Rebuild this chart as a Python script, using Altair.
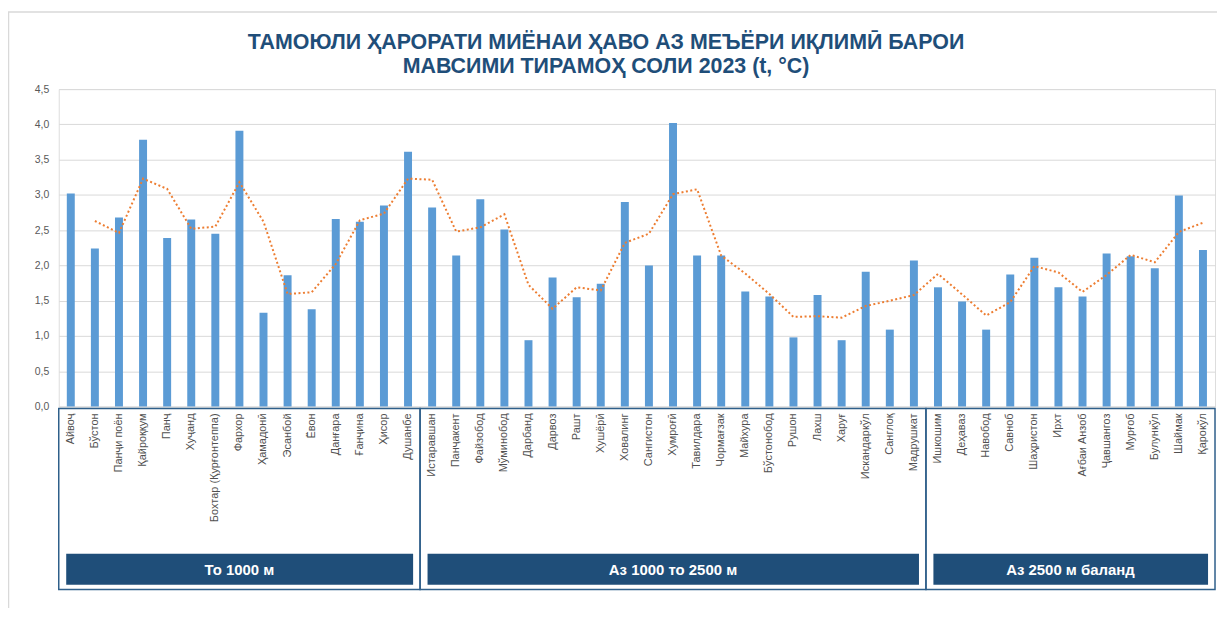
import altair as alt
import pandas as pd

stations = [
    "Айвоҷ", "Бўстон", "Панҷи поён", "Қайроққум", "Панҷ", "Хуҷанд",
    "Бохтар (Қурғонтеппа)", "Фархор", "Ҳамадонӣ", "Эсанбой", "Ёвон",
    "Данғара", "Ғанҷина", "Ҳисор", "Душанбе",
    "Истаравшан", "Панҷакент", "Файзобод", "Мўминобод", "Дарбанд", "Дарвоз",
    "Рашт", "Хушёрӣ", "Ховалинг", "Сангистон", "Хумроғӣ", "Тавилдара",
    "Чормағзак", "Майхура", "Бўстонобод", "Рушон", "Лахш", "Харуғ",
    "Искандаркўл", "Санглоқ", "Мадрушкат",
    "Ишкошим", "Деҳаваз", "Навобод", "Савноб", "Шаҳристон", "Ирхт",
    "Ағбаи Анзоб", "Ҷавшангоз", "Мурғоб", "Булункўл", "Шаймак", "Қарокўл",
]
temps = [
    3.02, 2.24, 2.68, 3.78, 2.39, 2.65, 2.45, 3.91, 1.33, 1.86, 1.38,
    2.66, 2.62, 2.85, 3.61,
    2.82, 2.14, 2.94, 2.51, 0.94, 1.83, 1.55, 1.74, 2.90, 2.00, 4.02,
    2.14, 2.14, 1.63, 1.56, 0.98, 1.58, 0.94, 1.91, 1.09, 2.07,
    1.69, 1.49, 1.09, 1.87, 2.11, 1.69, 1.56, 2.17, 2.13, 1.96, 2.99, 2.22,
]
group_names = ["То 1000 м", "Аз 1000 то 2500 м", "Аз 2500 м баланд"]
group_sizes = [15, 21, 12]
y_ticks = [0, 0.5, 1, 1.5, 2, 2.5, 3, 3.5, 4, 4.5]
title_lines = [
    "ТАМОЮЛИ ҲАРОРАТИ МИЁНАИ ҲАВО АЗ МЕЪЁРИ ИҚЛИМӢ БАРОИ",
    "МАВСИМИ ТИРАМОҲ СОЛИ 2023 (t, °C)",
]

df = pd.DataFrame({"station": stations, "value": temps, "idx": list(range(len(stations)))})

starts, ends = [], []
s = 0
for n in group_sizes:
    starts.append(s)
    ends.append(s + n)
    s += n
gdf = pd.DataFrame({"name": group_names, "start": starts, "end": ends})
gdf["mid"] = (gdf["start"] + gdf["end"]) / 2

FONT = "Liberation Sans"
DARK = "#1F4E79"

qx = alt.Scale(domain=[0, len(stations)], nice=False, zero=False, padding=0)
yscale = alt.Scale(domain=[0, 4.5], nice=False, padding=0)
yaxis = alt.Axis(title=None, values=y_ticks,
                 labelExpr="replace(format(datum.value, '.1f'), '.', ',')",
                 domain=False, ticks=False, gridColor="#D9D9D9",
                 labelColor="#595959", labelFontSize=10.5, labelFont=FONT,
                 labelPadding=10)

base = alt.Chart(df).transform_calculate(pos="datum.idx + 0.5")

bars = base.mark_bar(size=8, color="#5B9BD5").encode(
    x=alt.X("pos:Q", scale=qx, axis=None),
    y=alt.Y("value:Q", scale=yscale, axis=yaxis),
)

trend = base.transform_window(
    ma="mean(value)", frame=[-1, 0], sort=[alt.SortField("idx")]
).transform_filter("datum.idx > 0").mark_line(
    color="#ED7D31", strokeWidth=2, strokeDash=[2, 2.5]
).encode(
    x=alt.X("pos:Q", scale=qx, axis=None),
    y=alt.Y("ma:Q", scale=yscale, axis=yaxis),
)

xlabels = base.mark_text(
    angle=270, align="right", baseline="middle", fontSize=11,
    font=FONT, color="#505050"
).encode(
    x=alt.X("pos:Q", scale=qx, axis=None),
    y=alt.value(326),
    text="station:N",
)

frame = alt.Chart(pd.DataFrame({"a": [0]})).mark_rect(
    fill="transparent", stroke="#D9D9D9", strokeWidth=1.5
).encode(x=alt.value(-50.5), x2=alt.value(1200), y=alt.value(-77.5), y2=alt.value(560))

title1 = alt.Chart(pd.DataFrame({"t": [title_lines[0]]})).mark_text(
    fontSize=21.5, font=FONT, fontWeight="bold", color=DARK, baseline="middle"
).encode(x=alt.value(550), y=alt.value(-46), text="t:N")
title2 = alt.Chart(pd.DataFrame({"t": [title_lines[1]]})).mark_text(
    fontSize=21.5, font=FONT, fontWeight="bold", color=DARK, baseline="middle"
).encode(x=alt.value(550), y=alt.value(-22), text="t:N")

box = alt.Chart(gdf).mark_rect(fill="transparent", stroke="#2F5F8A", strokeWidth=1.5).encode(
    x=alt.X("start:Q", scale=qx, axis=None), x2="end:Q",
    y=alt.value(321), y2=alt.value(503),
)
label_rect = alt.Chart(gdf).mark_rect(color=DARK, xOffset=7.5, x2Offset=-7).encode(
    x=alt.X("start:Q", scale=qx, axis=None), x2="end:Q",
    y=alt.value(467), y2=alt.value(498),
)
label_text = alt.Chart(gdf).mark_text(
    color="white", fontSize=15, fontWeight="bold", font=FONT
).encode(
    x=alt.X("mid:Q", scale=qx, axis=None),
    y=alt.value(483),
    text="name:N",
)

chart = alt.layer(frame, bars, trend, xlabels, box, label_rect, label_text,
                  title1, title2).properties(
    width=1162, height=319,
    autosize=alt.AutoSizeParams(type="none"),
    padding={"left": 51, "top": 80, "right": 2, "bottom": 201},
).configure_view(strokeWidth=0, stroke="transparent").configure(background="white")

chart.save("out.html", embed_options={"renderer": "svg", "actions": False})
